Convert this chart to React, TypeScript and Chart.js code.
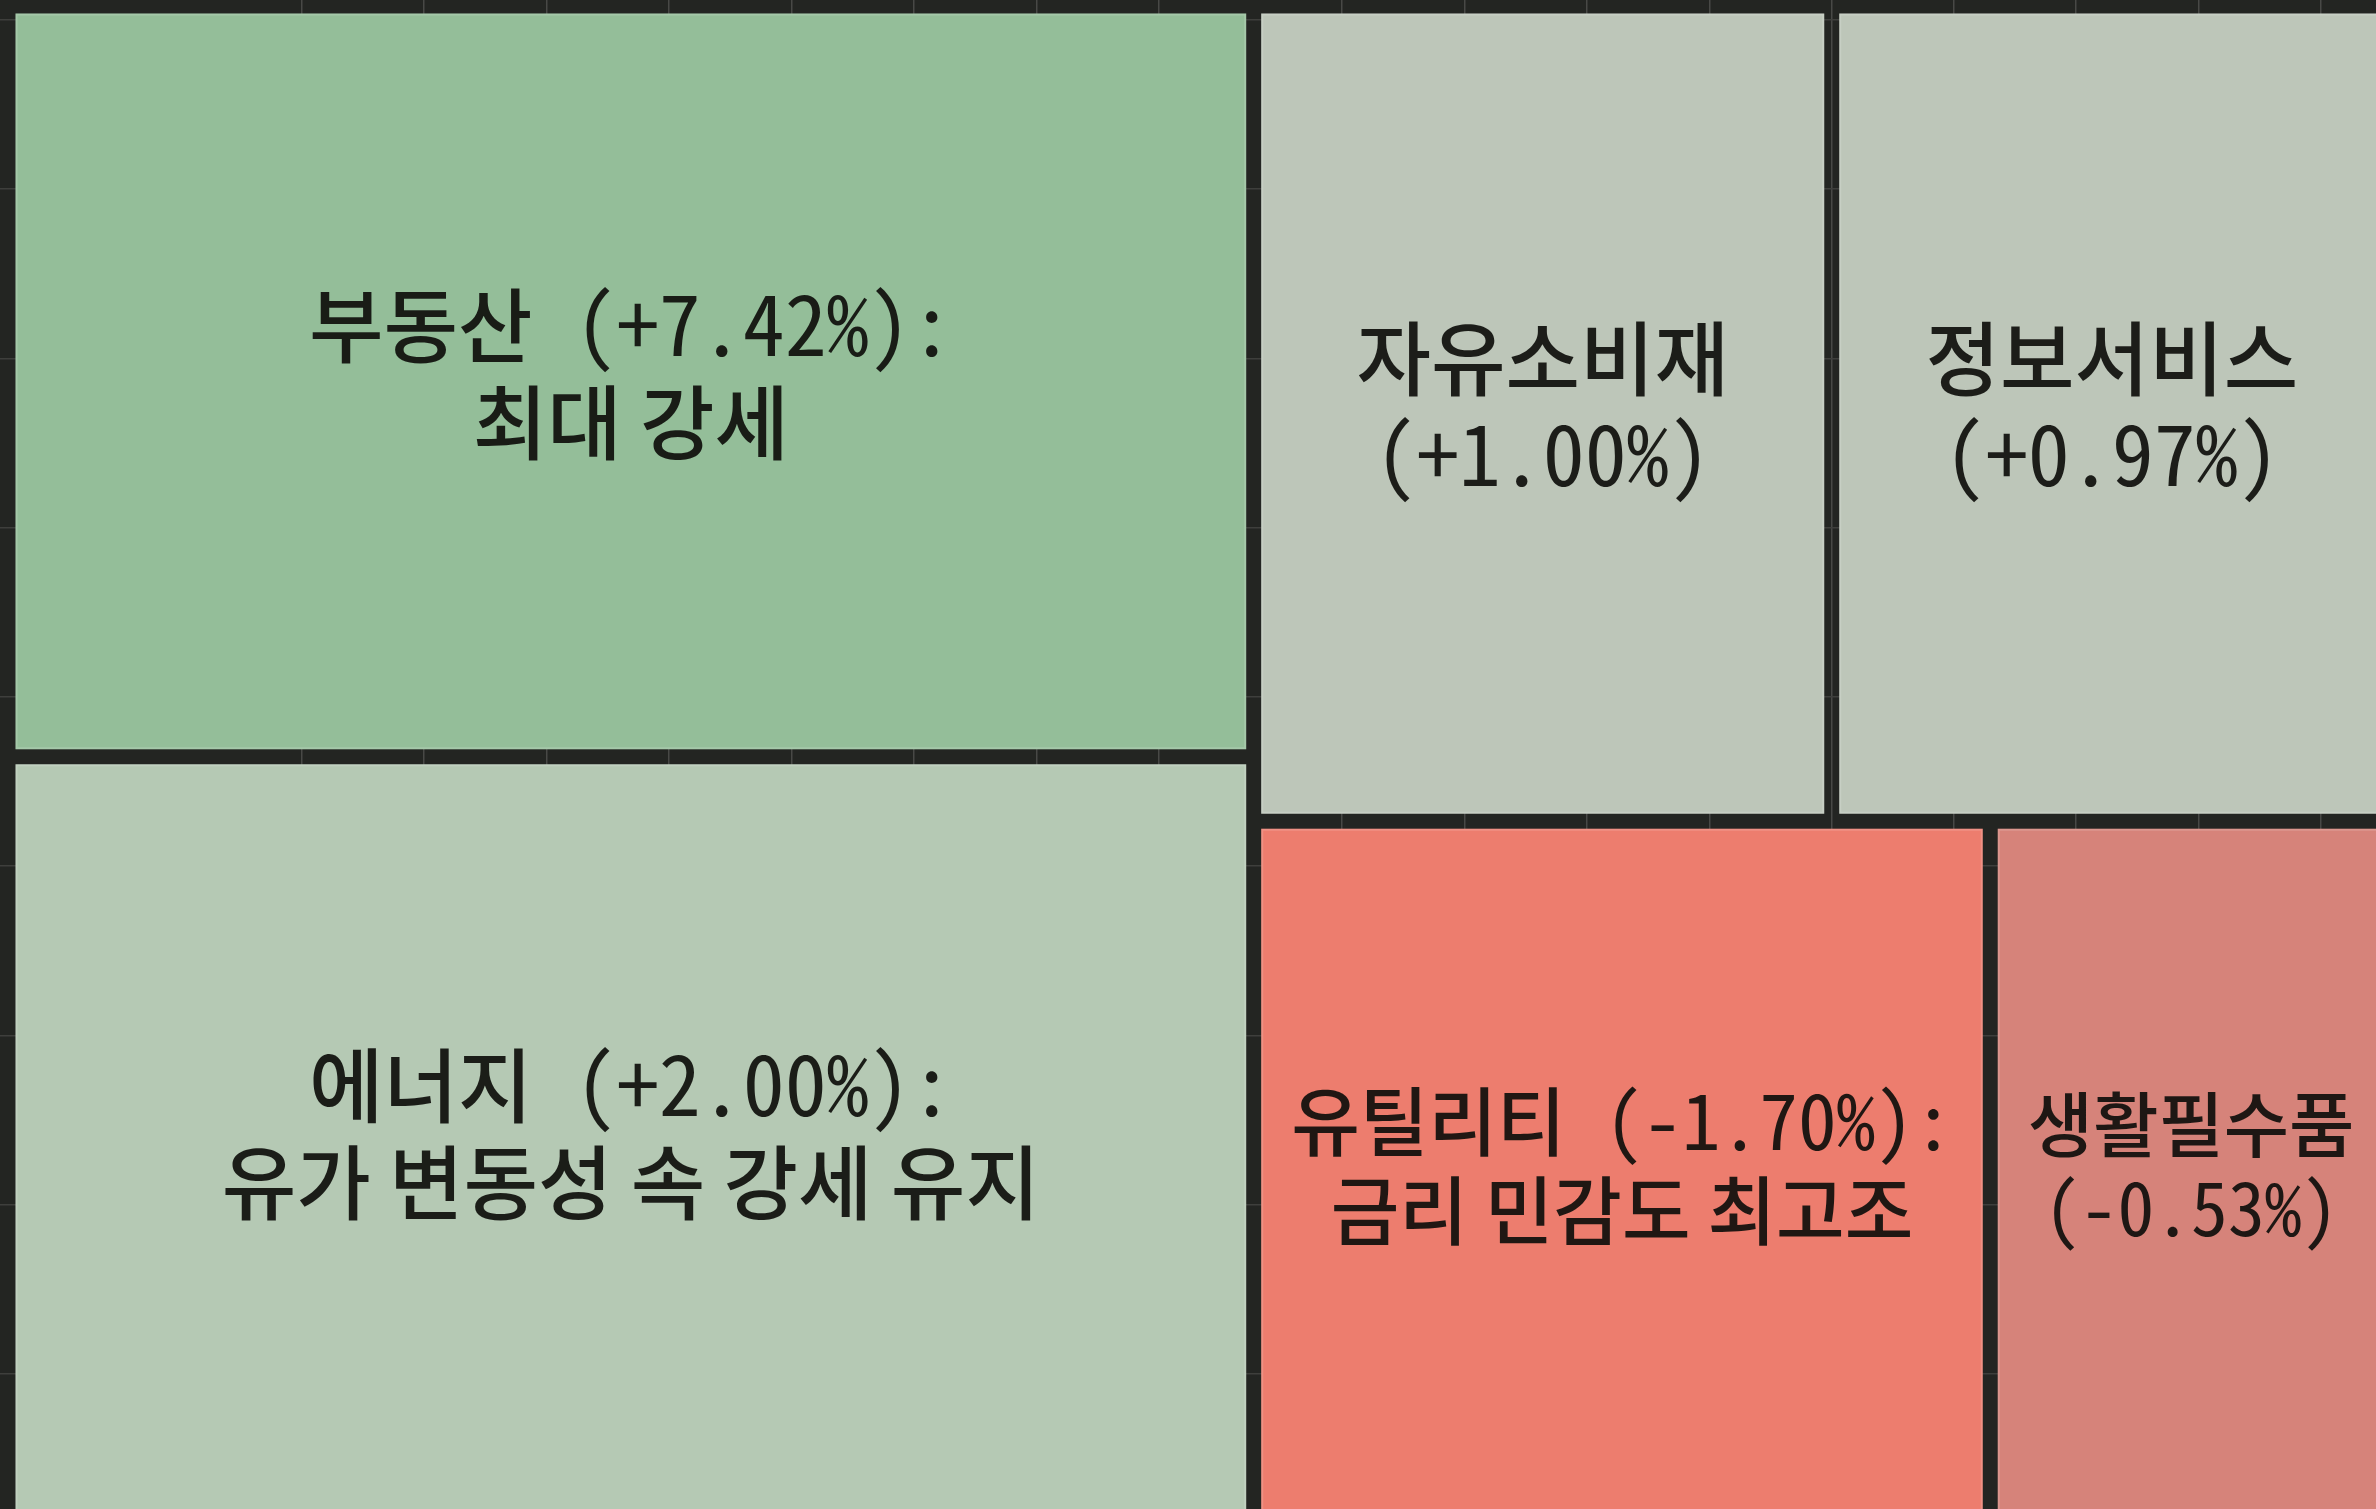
import React, { useEffect, useRef } from 'react';
import { Chart, registerables } from 'chart.js';

Chart.register(...registerables);

// ---- data ----
const sectors = ['부동산', '에너지', '자유소비재', '정보서비스', '유틸리티', '생활필수품'];
const changes = [7.42, 2.0, 1.0, 0.97, -1.7, -0.53];
const weights = [25.8, 26.4, 13.0, 12.6, 14.3, 7.8];
const notes = ['최대 강세', '유가 변동성 속 강세 유지', '', '', '금리 민감도 최고조', ''];
// treemap structure: columns -> rows -> cell indices
const columns = [[[0], [1]], [[2, 3], [4, 5]]];
// background grid tick values (canvas-unit axis)
const gridXTicks = [302, 424, 547, 669, 792, 914, 1037, 1159, 1342, 1465, 1587, 1710, 1832, 1954, 2076, 2199, 2321];
const gridYTicks = [20, 189, 359, 528, 697, 866, 1036, 1205, 1374];

// ---- styles ----
const cellColors = ['#94BE99', '#B5C9B4', '#BDC6B9', '#BDC6B9', '#ED7D6E', '#D6837A'];
const BG = '#232522';
const GAP = 15;
const HANGUL_SIZE = 81;
const LATIN_STACK = '"Noto Sans Mono CJK KR", "DejaVu Sans Mono", monospace';
const LATIN_ADVANCE = 42;
const LINE_H = 97;
const TEXT_PAD = 30;
const TEXT_COLOR = 'rgba(14,14,11,0.92)';

const sum = (a: number[]) => a.reduce((s, v) => s + v, 0);
const fmt = (v: number) => `${v >= 0 ? '+' : '-'}${Math.abs(v).toFixed(2)}%`;

type R = { x0: number; x1: number; y0: number; y1: number };

function layoutTreemap(): R[] {
  const rects: R[] = [];
  const total = sum(weights);
  let x = 0;
  for (const col of columns) {
    const colSum = sum(col.flat().map((i) => weights[i]));
    const w = (100 * colSum) / total;
    let y = 0;
    for (const row of col) {
      const rowSum = sum(row.map((i) => weights[i]));
      const h = (100 * rowSum) / colSum;
      let cx = x;
      for (const i of row) {
        const cw = (w * weights[i]) / rowSum;
        rects[i] = { x0: cx, x1: cx + cw, y0: y, y1: y + h };
        cx += cw;
      }
      y += h;
    }
    x += w;
  }
  return rects;
}

function labelLines(i: number): string[] {
  if (notes[i]) return [`${sectors[i]} (${fmt(changes[i])}):`, notes[i]];
  return [sectors[i], `(${fmt(changes[i])})`];
}

const isHangul = (c: string) => /[\u1100-\u11FF\u3130-\u318F\uAC00-\uD7AF]/.test(c);

function splitRuns(s: string): { t: string; k: boolean }[] {
  const chars = Array.from(s);
  const cls: boolean[] = chars.map((c, i) => {
    if (c !== ' ') return isHangul(c);
    for (let j = i + 1; j < chars.length; j++) if (chars[j] !== ' ') return isHangul(chars[j]);
    return false;
  });
  const runs: { t: string; k: boolean }[] = [];
  chars.forEach((c, i) => {
    const last = runs[runs.length - 1];
    if (last && last.k === cls[i]) last.t += c;
    else runs.push({ t: c, k: cls[i] });
  });
  return runs;
}

let latinRatio = 0;
function fonts(ctx: CanvasRenderingContext2D, scale: number) {
  if (!latinRatio) {
    ctx.font = `500 100px ${LATIN_STACK}`;
    latinRatio = ctx.measureText('0000000000').width / 1000; // advance per px of size
  }
  const hs = HANGUL_SIZE * scale;
  const ls = (LATIN_ADVANCE * scale) / latinRatio;
  return {
    hangul: `500 ${hs.toFixed(1)}px "Noto Sans CJK KR", sans-serif`,
    latin: `500 ${ls.toFixed(1)}px ${LATIN_STACK}`,
    hs,
  };
}

function measureLine(ctx: CanvasRenderingContext2D, ln: string, f: { hangul: string; latin: string }) {
  const runs = splitRuns(ln);
  const widths = runs.map((run) => {
    ctx.font = run.k ? f.hangul : f.latin;
    return ctx.measureText(run.t).width;
  });
  return { runs, widths, total: sum(widths) };
}

const treemapPlugin = {
  id: 'treemapCells',
  beforeDraw(chart: any) {
    const ctx = chart.ctx;
    ctx.save();
    ctx.fillStyle = BG;
    ctx.fillRect(0, 0, chart.width, chart.height);
    ctx.restore();
  },
  beforeDatasetsDraw(chart: any) {
    const ctx: CanvasRenderingContext2D = chart.ctx;
    const xs = chart.scales.x;
    const ys = chart.scales.y;
    const rects = layoutTreemap();
    rects.forEach((r, i) => {
      const px0 = xs.getPixelForValue(r.x0) + GAP / 2;
      const px1 = xs.getPixelForValue(r.x1) - GAP / 2;
      const py0 = ys.getPixelForValue(r.y0) + GAP / 2;
      const py1 = ys.getPixelForValue(r.y1) - GAP / 2;
      ctx.save();
      ctx.fillStyle = cellColors[i];
      ctx.fillRect(px0, py0, px1 - px0, py1 - py0);
      ctx.strokeStyle = 'rgba(255,255,255,0.16)';
      ctx.lineWidth = 2;
      ctx.strokeRect(px0 + 1, py0 + 1, px1 - px0 - 2, py1 - py0 - 2);
      // label, shrunk to fit the cell width when needed
      const cx = (px0 + px1) / 2;
      const cy = (py0 + py1) / 2;
      const lines = labelLines(i);
      const f1 = fonts(ctx, 1);
      const maxW = Math.max(...lines.map((ln) => measureLine(ctx, ln, f1).total));
      const scale = Math.min(1, (px1 - px0 - 2 * TEXT_PAD) / maxW);
      const f = fonts(ctx, scale);
      const lh = LINE_H * scale;
      ctx.textAlign = 'left';
      ctx.textBaseline = 'alphabetic';
      ctx.fillStyle = TEXT_COLOR;
      lines.forEach((ln, k) => {
        const midY = cy + (k - (lines.length - 1) / 2) * lh;
        const base = midY + 0.29 * f.hs;
        const m = measureLine(ctx, ln, f);
        let x = cx - m.total / 2;
        m.runs.forEach((run, j) => {
          ctx.font = run.k ? f.hangul : f.latin;
          ctx.fillText(run.t, x, base);
          x += m.widths[j];
        });
      });
      ctx.restore();
    });
  },
};

export default function App() {
  const ref = useRef<HTMLCanvasElement | null>(null);
  useEffect(() => {
    document.body.style.margin = '0';
    const rects = layoutTreemap();
    const chart = new Chart(ref.current as HTMLCanvasElement, {
      type: 'scatter',
      data: {
        datasets: [
          {
            label: '섹터',
            data: rects.map((r) => ({ x: (r.x0 + r.x1) / 2, y: (r.y0 + r.y1) / 2 })),
            pointRadius: 0,
            xAxisID: 'x',
            yAxisID: 'y',
          },
        ],
      },
      options: {
        animation: false,
        responsive: false,
        devicePixelRatio: 1,
        events: [],
        layout: { padding: 0 },
        plugins: { legend: { display: false }, tooltip: { enabled: false }, title: { display: false } },
        scales: {
          x: { type: 'linear', min: -0.336, max: 99.329, display: false },
          y: { type: 'linear', min: -0.395, max: 98.947, reverse: true, display: false },
          gx: {
            type: 'linear',
            axis: 'x',
            position: 'bottom',
            min: 0,
            max: 2376,
            display: true,
            border: { display: false },
            ticks: { display: false },
            grid: { color: '#484946', lineWidth: 1.5, drawTicks: false },
            afterBuildTicks: (s: any) => {
              s.ticks = gridXTicks.map((v) => ({ value: v }));
            },
          },
          gy: {
            type: 'linear',
            axis: 'y',
            position: 'left',
            min: 0,
            max: 1509,
            reverse: true,
            display: true,
            border: { display: false },
            ticks: { display: false },
            grid: { color: '#3e3f3c', lineWidth: 1.5, drawTicks: false },
            afterBuildTicks: (s: any) => {
              s.ticks = gridYTicks.map((v) => ({ value: v }));
            },
          },
        },
      },
      plugins: [treemapPlugin],
    } as any);
    return () => chart.destroy();
  }, []);
  return (
    <div style={{ position: 'absolute', left: 0, top: 0, width: 2376, height: 1509 }}>
      <canvas ref={ref} width={2376} height={1509} style={{ display: 'block' }} />
    </div>
  );
}
